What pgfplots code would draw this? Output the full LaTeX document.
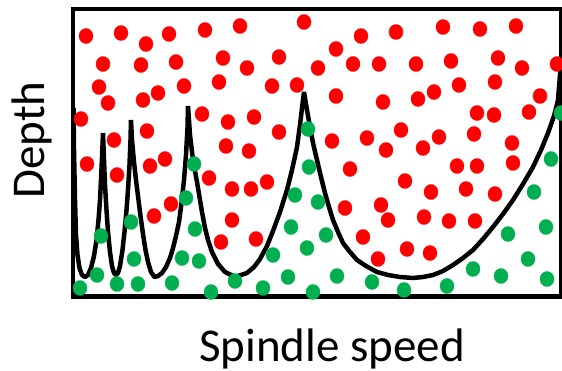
\documentclass[border=0pt]{standalone}
\usepackage{pgfplots}
\pgfplotsset{compat=1.18}
\usepackage{fontspec}
\setmainfont{Carlito}
\definecolor{dotred}{RGB}{255,0,0}
\definecolor{dotgreen}{RGB}{0,176,80}

\begin{document}
\begin{tikzpicture}
\useasboundingbox (-73pt,-73.5pt) rectangle (489pt,296.5pt);
\begin{axis}[
  scale only axis,
  width=488pt, height=287.5pt,
  xmin=73, xmax=561, ymin=9, ymax=296.5,
  y dir=reverse,
  xtick=\empty, ytick=\empty,
  axis line style={line width=4.3pt, line join=miter},
  axis on top,
  xlabel={Spindle speed},
  ylabel={Depth},
  label style={font=\fontsize{47}{50}\selectfont},
  xlabel style={at={(axis description cs:0.531,-0.226)}, anchor=base},
  ylabel style={at={(axis description cs:-0.0574,0.544)}, anchor=base},
]

% stability lobes (pixel coordinates)
\addplot[black, line width=4.5pt, line join=bevel] coordinates {
(73.5,108) (74,150) (75,200) (76,235) (77.5,255) (79.5,268) (82,275) (85,277)
(88,275) (91,268) (94,256) (96.5,240) (98.5,220) (100,200) (101,180) (102,158) (103,133)
(104,160) (105,185) (106.5,210) (108,232) (110,252) (112,266) (114,273) (116,275)
(118,273) (120,266) (122.5,250) (124.5,232) (126.5,210) (128,190) (129.5,165) (130.5,140) (131,120)
(132,140) (134,162) (136,180) (138,196) (140.5,216) (143,234) (145.5,250) (148,262) (151,272) (154.5,277)
(158,276) (162,273) (166,267) (170,258) (173,248) (176,236) (179,222) (181.5,203) (184,180) (186,155) (187.5,128) (188,106)
(190,135) (193,160) (197,182) (202,212) (205,228) (208,240) (212,252) (218,264) (225,272) (235,277)
(247,273) (254,267) (260,259) (267,246) (273,231) (280,212) (287,190) (292,170) (297,147) (300,125) (302,108) (304,92)
(307,110) (310,127) (313,143) (317,160) (321,177) (325,193) (329,207) (333,220) (338,232) (343,243)
(350,252) (357,260) (366,266) (377,272) (388,275) (400,277) (413,278) (423,277) (433,275) (443,271)
(453,265) (463,258) (473,250) (483,239) (493,227) (503,214) (513,200) (523,184) (533,167) (541,150)
(548,133) (554,116) (558,100) (560,75) (561.5,55)
};

% unstable cuts
\addplot[only marks, color=dotred, mark=*, mark size=7.6pt, mark options={line width=0.2pt, xscale=0.93}] coordinates {
(86,36) (121,33) (146,44) (169,34) (205,30) (103,64) (141,65) (176,62) (223,58)
(99,87) (158,93) (184,86) (219,82) (108,103) (143,100) (81,119) (202,114) (228,122)
(114,140) (147,131) (226,146)
(240,26) (304,22) (361,36) (279,57) (336,49) (247,68) (318,68) (353,64) (379,64)
(272,86) (297,85) (336,96) (383,102) (254,117) (279,132) (332,141) (367,138) (249,151) (386,150)
(396,32) (443,27) (480,29) (516,26) (416,64) (451,61) (498,58) (522,68) (557,64)
(418,99) (434,92) (459,85) (495,82) (540,96) (477,113) (494,115) (529,112)
(401,130) (439,137) (474,134) (512,143) (423,148)
(87,164) (117,175) (150,166) (165,159) (209,178) (154,216) (171,204) (221,242) (232,189) (232,220)
(251,189) (267,182) (350,169) (345,208) (381,205) (256,239) (363,237) (378,259) (388,220)
(457,166) (477,166) (513,163) (405,181) (431,192) (466,189) (495,194)
(424,217) (449,221) (475,221) (407,249) (430,253)
};

% stable cuts
\addplot[only marks, color=dotgreen, mark=*, mark size=7.6pt, mark options={line width=0.2pt, xscale=0.93}] coordinates {
(308,129) (561,113)
(194,164) (186,198) (131,222) (101,236) (195,229) (134,259) (182,258) (199,261)
(97,275) (80,288) (117,284) (138,284) (172,283) (211,292)
(309,167) (295,195) (318,202) (291,227) (326,235) (307,248) (273,255) (235,281)
(263,288) (288,277) (313,292) (337,276) (372,282)
(551,159) (534,192) (546,227) (508,234) (528,259) (473,269) (501,276) (547,279) (447,286) (404,290)
};

\end{axis}
\end{tikzpicture}
\end{document}
